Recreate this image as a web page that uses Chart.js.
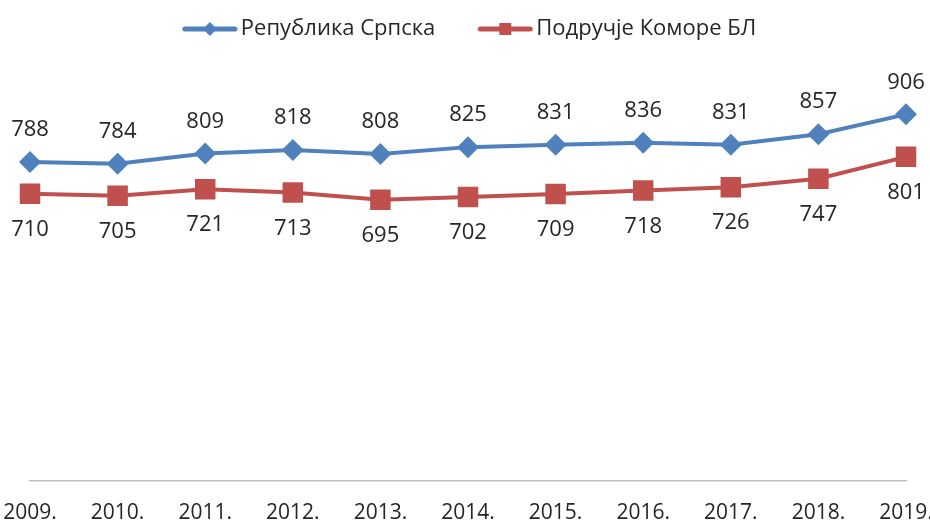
<!DOCTYPE html>
<html lang="sr">
<head>
    <meta charset="UTF-8">
    <title>Република Српска / Подручје Коморе БЛ</title>
    <script src="https://cdn.jsdelivr.net/npm/chart.js"></script>
    <style>
        body { margin: 0; background: #fff; }
        #wrap { width: 930px; height: 521px; overflow: hidden; }
    </style>
</head>
<body>
    <div id="wrap"><canvas id="grafik" width="930" height="521"></canvas></div>

    <script>
        const godine = ['2009.', '2010.', '2011.', '2012.', '2013.', '2014.', '2015.', '2016.', '2017.', '2018.', '2019.'];
        const republikaSrpska = [788, 784, 809, 818, 808, 825, 831, 836, 831, 857, 906];
        const podrucjeKomore = [710, 705, 721, 713, 695, 702, 709, 718, 726, 747, 801];

        const PLAVA = '#4F81BD';
        const CRVENA = '#C0504D';

        // mala slika za legendu: linija + marker
        function legendaIkona(boja, oblik) {
            const c = document.createElement('canvas');
            c.width = 56; c.height = 16;
            const g = c.getContext('2d');
            g.strokeStyle = boja;
            g.lineWidth = 5;
            g.lineCap = 'round';
            g.beginPath(); g.moveTo(3, 8); g.lineTo(53, 8); g.stroke();
            g.fillStyle = boja;
            g.beginPath();
            if (oblik === 'romb') {
                g.moveTo(28, 1); g.lineTo(35, 8); g.lineTo(28, 15); g.lineTo(21, 8);
            } else {
                g.rect(22, 2, 12, 12);
            }
            g.closePath(); g.fill();
            return c;
        }
        const ikone = [legendaIkona(PLAVA, 'romb'), legendaIkona(CRVENA, 'kvadrat')];

        const vrijednosti = {
            id: 'vrijednosti',
            afterLayout(chart) {
                // legenda malo udesno, kao u originalu
                chart.legend.left += 5;
                chart.legend.right += 5;
            },
            afterDatasetsDraw(chart) {
                const ctx = chart.ctx;
                ctx.save();
                ctx.font = '22px "Open Sans"';
                ctx.fillStyle = '#262626';
                ctx.textAlign = 'center';
                ctx.textBaseline = 'middle';
                chart.data.datasets.forEach((ds, i) => {
                    const meta = chart.getDatasetMeta(i);
                    const pomak = i === 0 ? -32 : 36;
                    meta.data.forEach((t, j) => ctx.fillText(ds.data[j], t.x, t.y + pomak));
                });
                ctx.restore();
            }
        };

        const ctx = document.getElementById('grafik').getContext('2d');
        new Chart(ctx, {
            type: 'line',
            data: {
                labels: godine,
                datasets: [{
                    label: 'Република Српска',
                    data: republikaSrpska,
                    borderColor: PLAVA,
                    backgroundColor: PLAVA,
                    borderWidth: 4,
                    pointStyle: 'rectRot',
                    pointRadius: 11,
                    pointHoverRadius: 11,
                    pointBorderWidth: 0,
                    tension: 0
                }, {
                    label: 'Подручје Коморе БЛ',
                    data: podrucjeKomore,
                    borderColor: CRVENA,
                    backgroundColor: CRVENA,
                    borderWidth: 4,
                    pointStyle: 'rect',
                    pointRadius: 14.5,
                    pointHoverRadius: 14.5,
                    pointBorderWidth: 0,
                    tension: 0
                }]
            },
            options: {
                responsive: false,
                animation: false,
                layout: { padding: { left: 30, right: 24, top: 8, bottom: 0 } },
                scales: {
                    x: {
                        offset: false,
                        grid: { display: false, drawTicks: false },
                        border: { display: true, color: '#BFBFBF', width: 1.5 },
                        ticks: {
                            autoSkip: false,
                            maxRotation: 0,
                            padding: 19,
                            color: '#262626',
                            font: { family: 'Open Sans', size: 21 }
                        },
                        afterFit(scale) {
                            scale.paddingLeft = 0;
                            scale.paddingRight = 0;
                            scale.height = 40;
                        }
                    },
                    y: {
                        display: false,
                        min: 0,
                        max: 1065
                    }
                },
                plugins: {
                    tooltip: { enabled: false },
                    legend: {
                        position: 'top',
                        labels: {
                            usePointStyle: true,
                            pointStyleWidth: 40,
                            padding: 10,
                            color: '#262626',
                            font: { family: 'Open Sans', size: 22 },
                            generateLabels(chart) {
                                const l = Chart.defaults.plugins.legend.labels.generateLabels(chart);
                                l.forEach((e, i) => {
                                    e.pointStyle = ikone[i];
                                    if (i === 0) e.text = e.text + '       ';
                                });
                                return l;
                            }
                        }
                    }
                }
            },
            plugins: [vrijednosti]
        });
    </script>
</body>
</html>
